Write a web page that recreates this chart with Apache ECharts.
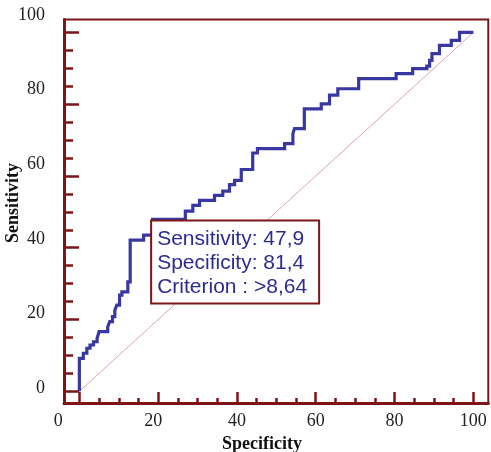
<!DOCTYPE html>
<html><head><meta charset="utf-8">
<script src="https://cdn.jsdelivr.net/npm/echarts@6/dist/echarts.min.js"></script>
<style>html,body{margin:0;padding:0;background:#fff}#c{width:491px;height:452px}</style>
</head><body><div id="c"></div>
<script>
// ROC curve: x = 100 - specificity (right end of each horizontal run), y = sensitivity level
const rocFpr = [0, 1.0, 1.9, 2.7, 3.6, 4.5, 5.0, 7.2, 7.7, 8.4, 9.0, 9.5, 10.2, 10.8, 12.3, 12.9, 16.3, 18.6,
  26.9, 28.8, 30.5, 34.3, 36.4, 38.1, 39.4, 41.1, 44.0, 45.2, 52.1, 54.2, 54.6, 57.1, 61.4, 63.5, 65.6,
  70.9, 80.4, 84.6, 88.2, 88.9, 89.5, 91.4, 94.4, 96.5, 100];
const rocTpr = [0, 9.2, 10.6, 12.0, 12.9, 13.8, 14.8, 16.6, 18.0, 19.4, 20.8, 22.6, 24.0, 26.8, 27.7, 30.5, 42.1, 43.5,
  47.9, 50.2, 51.8, 53.2, 54.6, 55.8, 57.6, 58.8, 61.8, 66.4, 67.6, 69.0, 71.8, 73.2, 78.7, 80.1, 82.5,
  84.3, 87.1, 88.5, 89.9, 90.6, 92.2, 94.1, 96.4, 97.8, 100];
const diagX = [0, 100];
const diagY = [0, 100];
const xTickLabels = [0, 20, 40, 60, 80, 100];
const yTickLabels = [0, 20, 40, 60, 80, 100];
const xMinorTicks = [5, 10, 15, 25, 30, 35, 45, 50, 55, 65, 70, 75, 85, 90, 95];
const yMinorTicks = [5, 10, 15, 25, 30, 35, 45, 50, 55, 65, 70, 75, 85, 90, 95];
const cutSensitivity = 47.9;
const cutSpecificity = 81.4;
const cutCriterion = '>8,64';
const xTitle = 'Specificity';
const yTitle = 'Sensitivity';

const RED = '#7d1416';
const BLUE = '#3838a2';
const serif = '"Liberation Serif", "DejaVu Serif", serif';
const fmt = v => String(v).replace('.', ',');

const chart = echarts.init(document.getElementById('c'), null, {renderer: 'canvas'});
const baseX = {
  gridIndex: 0, type: 'value', min: -3.9, max: 103.8, position: 'bottom',
  splitLine: {show: false}, axisLine: {show: false, onZero: false}, axisLabel: {show: false}, axisTick: {show: false}
};
const baseY = {
  gridIndex: 0, type: 'value', min: -3.4, max: 103.6, position: 'left',
  splitLine: {show: false}, axisLine: {show: false, onZero: false}, axisLabel: {show: false}, axisTick: {show: false}
};
chart.setOption({
  animation: false,
  backgroundColor: '#fff',
  grid: [
    {left: 64, right: 2.7, top: 19.5, bottom: 48.5, show: true, borderColor: RED, borderWidth: 2, backgroundColor: 'transparent'},
    {left: 64, right: 2.7, top: 15, bottom: 64, show: false}
  ],
  xAxis: [
    Object.assign({}, baseX, {
      axisLine: {show: true, onZero: false, lineStyle: {color: RED, width: 3}},
      axisTick: {show: true, inside: true, length: 11.5, customValues: xTickLabels, lineStyle: {color: RED, width: 2.5}},
      axisLabel: {show: true, customValues: xTickLabels, margin: 9, color: '#222', fontFamily: serif, fontSize: 18,
        formatter: v => v === 0 ? '{a|0}' : (v === 20 ? '{b|20}' : String(v)),
        rich: {
          a: {padding: [0, 42, 0, 0], color: '#222', fontFamily: serif, fontSize: 18},
          b: {padding: [0, 10, 0, 0], color: '#222', fontFamily: serif, fontSize: 18}
        }}
    }),
    Object.assign({}, baseX, {
      axisTick: {show: true, inside: true, length: 5.5, customValues: xMinorTicks, lineStyle: {color: RED, width: 2.5}}
    }),
    {gridIndex: 1, type: 'value', show: false, min: 0, max: 100}
  ],
  yAxis: [
    Object.assign({}, baseY, {
      axisLine: {show: true, onZero: false, lineStyle: {color: RED, width: 3}},
      axisTick: {show: true, inside: true, length: 15, customValues: yTickLabels, lineStyle: {color: RED, width: 2.5}}
    }),
    Object.assign({}, baseY, {
      axisTick: {show: true, inside: true, length: 9, customValues: yMinorTicks, lineStyle: {color: RED, width: 2.5}}
    }),
    {gridIndex: 1, type: 'value', min: 0, max: 100, interval: 20, position: 'left',
      splitLine: {show: false}, axisLine: {show: false, onZero: false}, axisTick: {show: false},
      axisLabel: {show: true, margin: 19, color: '#222', fontFamily: serif, fontSize: 18}}
  ],
  series: [
    {
      type: 'line', xAxisIndex: 0, yAxisIndex: 0, z: 2, symbol: 'none', silent: true,
      data: diagX.map((x, i) => [x, diagY[i]]),
      lineStyle: {color: '#dca6ad', width: 1}
    },
    {
      type: 'line', xAxisIndex: 0, yAxisIndex: 0, z: 3, symbol: 'none', step: 'start', silent: true,
      data: rocFpr.map((x, i) => [x, rocTpr[i]]),
      lineStyle: {color: BLUE, width: 3.2, join: 'miter'},
      markPoint: {
        silent: true,
        symbol: 'rect', symbolSize: 1, itemStyle: {color: 'rgba(0,0,0,0)'},
        data: [{coord: [100 - cutSpecificity, cutSensitivity]}],
        label: {
          show: true, position: [0, 2.5], align: 'left', verticalAlign: 'top',
          formatter: () => 'Sensitivity: ' + fmt(cutSensitivity) + '\nSpecificity: ' + fmt(cutSpecificity) + '\nCriterion : ' + cutCriterion,
          fontFamily: '"Liberation Sans", Arial, sans-serif', fontSize: 21, lineHeight: 24, color: '#2c2c90',
          backgroundColor: '#fff', borderColor: RED, borderWidth: 2, padding: [6, 11, 3, 5]
        }
      }
    }
  ],
  graphic: [
    {type: 'text', x: 262, y: 444, style: {text: xTitle, x: 0, y: 0, align: 'center', verticalAlign: 'middle',
      font: 'bold 18px "Liberation Serif", serif', fill: '#111'}},
    {type: 'text', x: 13, y: 203, rotation: Math.PI / 2, style: {text: yTitle, x: 0, y: 0, align: 'center', verticalAlign: 'middle',
      font: 'bold 18px "Liberation Serif", serif', fill: '#111'}}
  ]
});
</script>
</body></html>
